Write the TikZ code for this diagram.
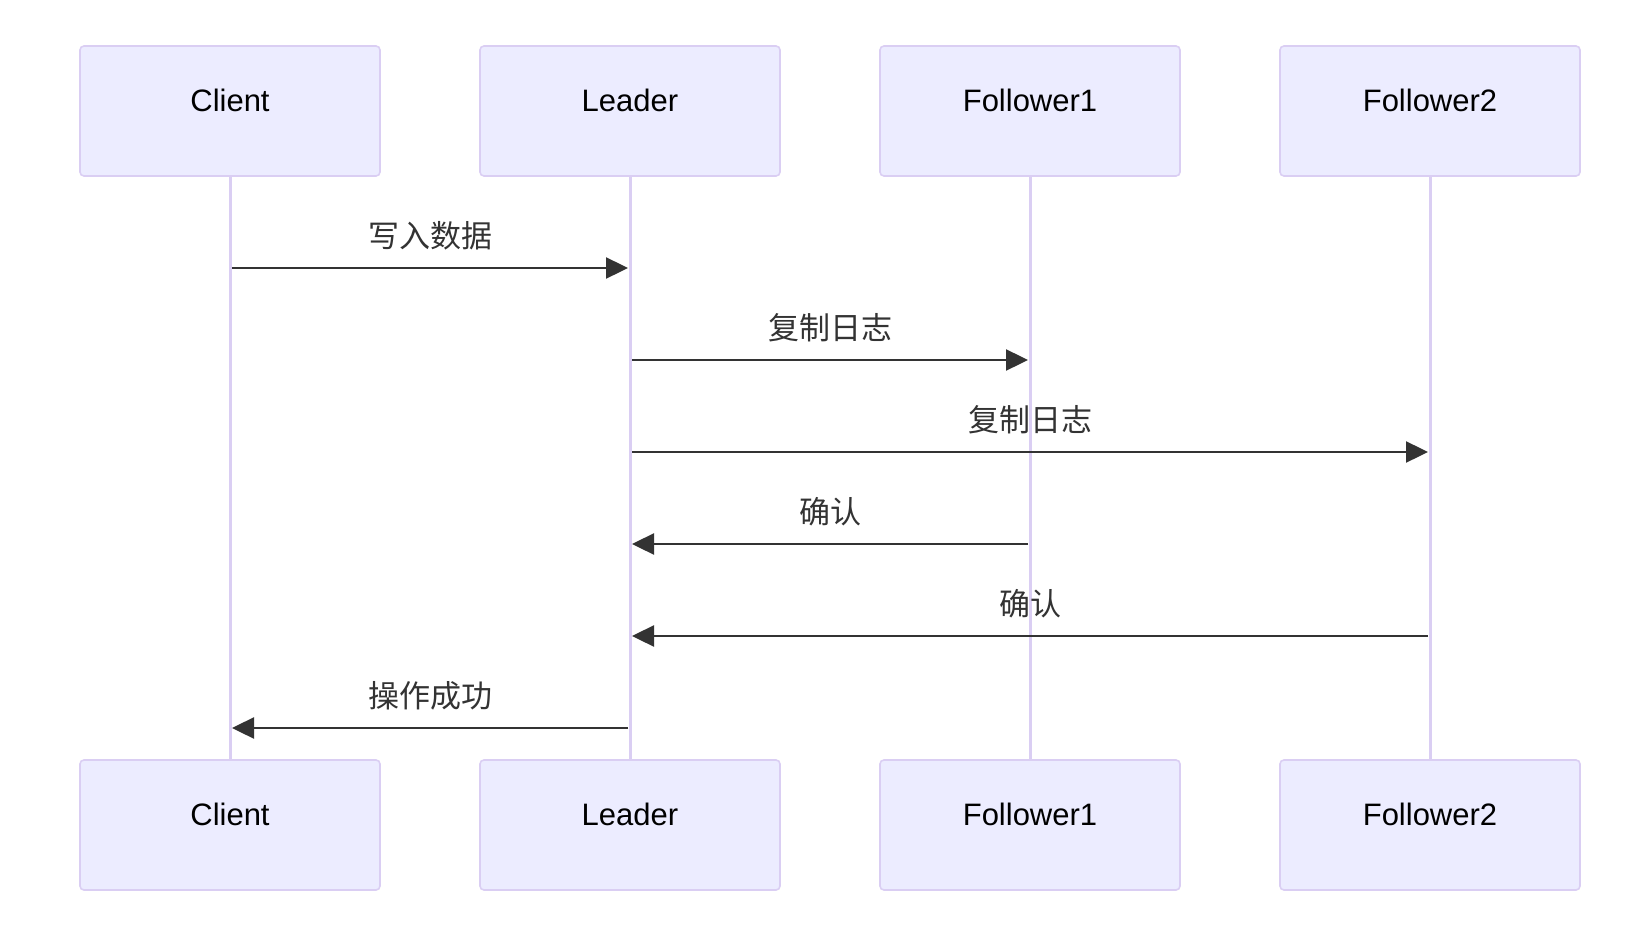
\documentclass[tikz,border=0pt]{standalone}
\usepackage{fontspec}
\setmainfont{Liberation Sans}
\newfontfamily\cjk{Noto Sans CJK SC}
\usetikzlibrary{arrows.meta}

\definecolor{actorfill}{HTML}{ECECFF}
\definecolor{actorline}{HTML}{DACEF3}
\definecolor{msgline}{HTML}{333333}

\begin{document}
\begin{tikzpicture}[x = 0.5pt, y = -0.5pt,
    actor/.style = {draw=actorline, fill=actorfill, line width=0.8pt, rounded corners=2pt,
                    minimum width=150pt, minimum height=65pt, inner sep=0pt},
    actortext/.style = {font=\fontsize{15.5}{18}\selectfont, text=black, inner sep=0pt},
    lifeline/.style = {draw=actorline, line width=1.5pt},
    msg/.style = {draw=msgline, line width=1.2pt, -{Triangle[length=11pt, width=10.5pt]},
                  shorten <=1pt, shorten >=1pt},
    msgtext/.style = {font=\cjk\fontsize{15.5}{18}\selectfont, text=msgline, inner sep=0pt}]

    \fill[white] (0,0) rectangle (1646,926);
    \useasboundingbox (0,0) rectangle (1646,926);

    \def \ytop {111};
    \def \ybot {825};

    % actors, top and bottom
    \foreach \name/\xpos/\txt in {c/230/Client, l/630/Leader, fa/1030/Follower1, fb/1430/Follower2}
    {
        \node[actor] (t\name) at (\xpos, \ytop) {};
        \node[actortext] (t\name txt) at ([yshift=5.5pt]t\name.center) {\txt};
        \node[actor] (b\name) at (\xpos, \ybot) {};
        \node[actortext] (b\name txt) at ([yshift=5.5pt]b\name.center) {\txt};
        \draw[lifeline] (t\name.south) -- (b\name.north);
    }

    % messages
    \foreach \from/\to/\ypos/\txt in {c/l/268/写入数据, l/fa/360/复制日志, l/fb/452/复制日志,
                                      fa/l/544/确认, fb/l/636/确认, l/c/728/操作成功}
    {
        \coordinate (m\ypos) at (0, \ypos);
        \draw[msg] (t\from |- m\ypos) -- node[msgtext, yshift=16pt] (lbl\ypos) {\txt} (t\to |- m\ypos);
    }

\end{tikzpicture}
\end{document}
